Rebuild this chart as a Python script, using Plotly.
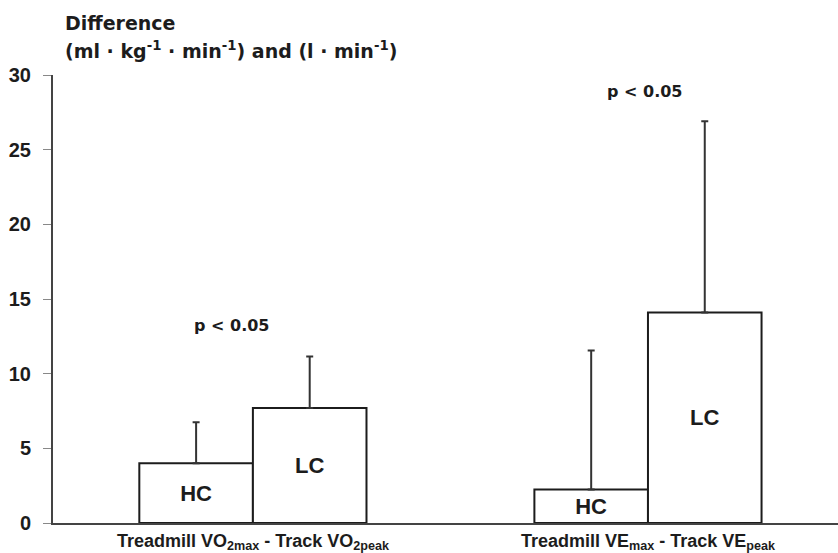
import plotly.graph_objects as go

# Treadmill minus track differences, by group
categories = ["VO2", "VE"]
category_labels = [
    "Treadmill VO<sub>2max</sub> - Track VO<sub>2peak</sub>",
    "Treadmill VE<sub>max</sub> - Track VE<sub>peak</sub>",
]
hc_mean = [4.0, 2.25]
hc_sd = [2.75, 9.3]
lc_mean = [7.7, 14.1]
lc_sd = [3.45, 12.8]
p_labels = ["p < 0.05", "p < 0.05"]
p_label_y = [13.25, 28.9]

INK = "#1c1c1c"
FONT = "Liberation Sans, Arial, sans-serif"
WIDE_FONT = "DejaVu Sans, Liberation Sans, sans-serif"

bar_style = dict(
    marker=dict(color="white", line=dict(color=INK, width=2)),
    textposition="inside",
    insidetextanchor="middle",
    textfont=dict(family=FONT, size=22, color=INK, weight="bold"),
    constraintext="none",
    showlegend=False,
    hoverinfo="skip",
)

fig = go.Figure()
fig.add_trace(go.Bar(
    x=categories, y=hc_mean, text=["HC", "HC"], name="HC",
    error_y=dict(type="data", symmetric=False, array=hc_sd, arrayminus=[0, 0],
                 color="#333333", thickness=2, width=3.5),
    **bar_style,
))
fig.add_trace(go.Bar(
    x=categories, y=lc_mean, text=["LC", "LC"], name="LC",
    error_y=dict(type="data", symmetric=False, array=lc_sd, arrayminus=[0, 0],
                 color="#333333", thickness=2, width=3.5),
    **bar_style,
))

annotations = []
for cat, txt, yv, shift in zip(categories, p_labels, p_label_y, [-21, -3]):
    annotations.append(dict(
        x=cat, y=yv, xref="x", yref="y", text=txt, showarrow=False,
        xshift=shift, font=dict(family=WIDE_FONT, size=16, color=INK, weight="bold"),
    ))

# Two-line y-axis caption above the plot
annotations.append(dict(
    x=0.0127, y=1.116, xref="paper", yref="paper", xanchor="left", yanchor="middle",
    text="Difference", showarrow=False,
    font=dict(family=WIDE_FONT, size=19, color=INK, weight="bold"),
))
annotations.append(dict(
    x=0.0127, y=1.056, xref="paper", yref="paper", xanchor="left", yanchor="middle",
    text="(ml · kg<sup>-1</sup> · min<sup>-1</sup>) and (l · min<sup>-1</sup>)",
    showarrow=False,
    font=dict(family=WIDE_FONT, size=19, color=INK, weight="bold"),
))

fig.update_layout(
    width=838, height=553,
    margin=dict(l=53, r=0, t=75, b=30),
    paper_bgcolor="white", plot_bgcolor="white",
    barmode="group", bargap=0.425, bargroupgap=0,
    annotations=annotations,
    font=dict(family=FONT, color=INK),
)
fig.update_xaxes(
    type="category", range=[-0.506, 1.481],
    tickvals=categories, ticktext=category_labels,
    tickfont=dict(family=FONT, size=18, color=INK, weight="bold"),
    showline=True, linecolor="#444444", linewidth=2,
    ticks="", showgrid=False, zeroline=False,
)
fig.update_yaxes(
    range=[0, 30], dtick=5,
    tickfont=dict(family=FONT, size=20, color=INK, weight="bold"),
    showline=True, linecolor="#444444", linewidth=2,
    ticks="outside", ticklen=8, tickcolor="#888888", tickwidth=1,
    ticklabelstandoff=8,
    showgrid=False, zeroline=False,
)

fig.write_html("out.html")
